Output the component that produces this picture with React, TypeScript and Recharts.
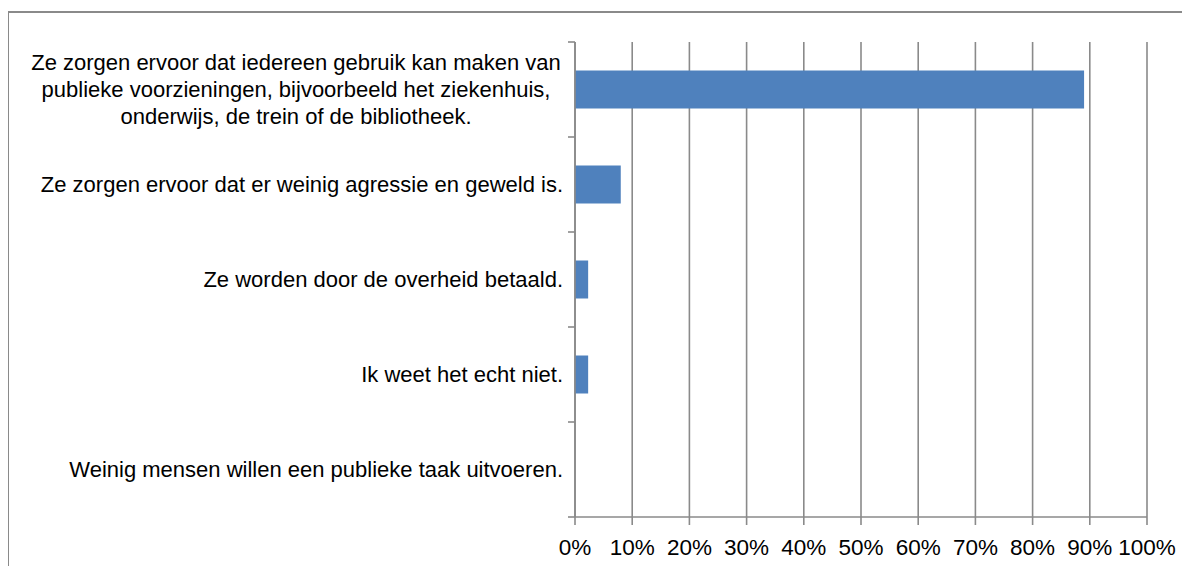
import { BarChart, Bar, XAxis, YAxis, CartesianGrid } from "recharts";

const categories = [
  "Ze zorgen ervoor dat iedereen gebruik kan maken van\npublieke voorzieningen, bijvoorbeeld het ziekenhuis,\nonderwijs, de trein of de bibliotheek.",
  "Ze zorgen ervoor dat er weinig agressie en geweld is.",
  "Ze worden door de overheid betaald.",
  "Ik weet het echt niet.",
  "Weinig mensen willen een publieke taak uitvoeren.",
];
const shares = [89, 8, 2.3, 2.3, 0];
const percentTicks = [0, 10, 20, 30, 40, 50, 60, 70, 80, 90, 100];

const data = categories.map((c, i) => ({ name: c, value: shares[i] }));

const FONT = "'Liberation Sans', Arial, sans-serif";
const GRAY = "#8a8a8a";
const TICK_GAP = 12; // tickSize + tickMargin on the category axis

function CategoryTick(props: any) {
  const { x, y, payload, index, visibleTicksCount, height } = props;
  const half = payload.offset || height / visibleTicksCount / 2;
  const axisX = x + TICK_GAP;
  const lines: string[] = String(payload.value).split("\n");
  const marks = (
    <>
      <line x1={axisX - 7} x2={axisX} y1={y - half} y2={y - half} stroke={GRAY} strokeWidth={1.6} />
      {index === visibleTicksCount - 1 && (
        <line x1={axisX - 7} x2={axisX} y1={y + half} y2={y + half} stroke={GRAY} strokeWidth={1.6} />
      )}
    </>
  );
  if (lines.length === 1) {
    return (
      <g>
        {marks}
        <text x={x} y={y} dy={7} textAnchor="end" fontSize={22} fontFamily={FONT} fill="#000">
          {lines[0]}
        </text>
      </g>
    );
  }
  const lh = 27;
  const top = y - ((lines.length - 1) * lh) / 2;
  return (
    <g>
      {marks}
      <text textAnchor="middle" fontSize={22} fontFamily={FONT} fill="#000">
        {lines.map((l, i) => (
          <tspan key={i} x={x - 267} y={top + i * lh} dy={7}>
            {l}
          </tspan>
        ))}
      </text>
    </g>
  );
}

export default function App() {
  return (
    <div style={{ position: "relative", width: 1190, height: 574, margin: -8, overflow: "hidden", background: "#fff" }}>
      <div
        style={{
          position: "absolute",
          left: 7,
          top: 11,
          width: 1200,
          height: 600,
          borderLeft: `2px solid ${GRAY}`,
          borderTop: `2px solid ${GRAY}`,
        }}
      />
      <div style={{ position: "absolute", left: 0, top: 0 }}>
        <BarChart
          width={1190}
          height={574}
          data={data}
          layout="vertical"
          barCategoryGap="30%"
          margin={{ top: 42, right: 43, bottom: 12, left: 0 }}
        >
          <CartesianGrid horizontal={false} stroke={GRAY} strokeWidth={1.6} />
          <XAxis
            type="number"
            domain={[0, 100]}
            ticks={percentTicks}
            tickFormatter={(v) => `${v}%`}
            interval={0}
            height={45}
            tickSize={8}
            tickMargin={14}
            stroke={GRAY}
            strokeWidth={1.6}
            tick={{ fill: "#000", fontSize: 22.5, fontFamily: FONT }}
          />
          <YAxis
            type="category"
            dataKey="name"
            width={575}
            stroke={GRAY}
            strokeWidth={1.6}
            tickLine={false}
            tickSize={6}
            tickMargin={6}
            interval={0}
            tick={<CategoryTick />}
          />
          <Bar dataKey="value" fill="#4F81BD" isAnimationActive={false} />
        </BarChart>
      </div>
    </div>
  );
}
